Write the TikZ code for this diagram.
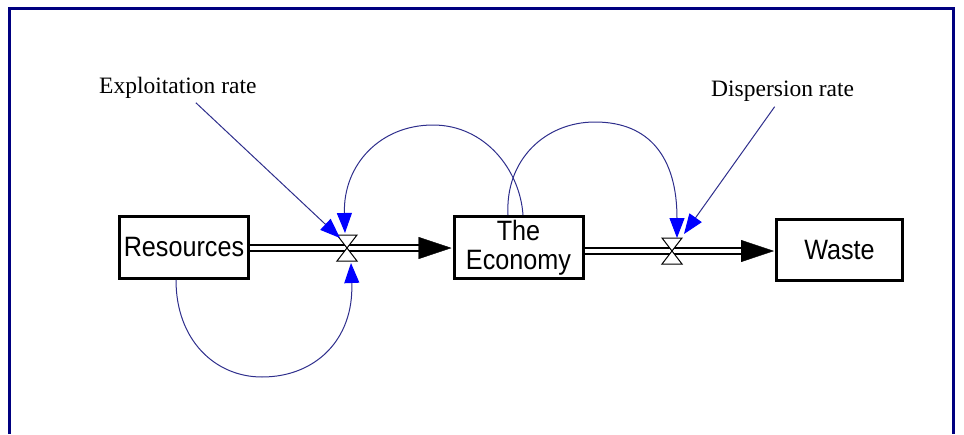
\documentclass[tikz,border=0pt]{standalone}
\usepackage{fontspec}
\setmainfont{Liberation Serif}
\newfontfamily\stockfont[FakeStretch=0.9]{Liberation Sans}
\usetikzlibrary{arrows.meta,calc}
\definecolor{frameblue}{HTML}{000080}
\definecolor{linkink}{HTML}{2E2E8C}
\definecolor{tipblue}{HTML}{0000FF}
\tikzset{>=Latex,stock/.style={draw,line width=3pt,minimum width=129pt,minimum height=62pt,inner sep=0pt,align=center,font=\stockfont\fontsize{28}{29}\selectfont},pipe/.style={double,double distance=4.5pt,line width=1.3pt},flowhead/.style={-{Triangle[length=33pt,width=22pt]},line width=0.4pt},valvebox/.style={draw,fill=white,line width=1pt},link/.style={draw=linkink,line width=1pt,-{Triangle[length=20pt,width=15pt,color=tipblue]}},ratelabel/.style={font=\fontsize{23.5}{27}\selectfont,inner sep=2pt,anchor=base west}}

\begin{document}
\begin{tikzpicture}[x=1pt,y=-1pt]
\useasboundingbox (0,0) rectangle (964,434);
\draw[frameblue,line width=3pt] (9.5,434) -- (9.5,8.5) -- (953,8.5) -- (953,434);
% stocks and rates
\node[stock] (res) at (184,247.5) {Resources};
\node[stock] (eco) at (518.5,247.5) {The\\Economy};
\node[stock,minimum width=126pt,minimum height=61pt] (waste) at (839.5,250) {Waste};
\coordinate (v1) at (347,248);
\coordinate (v2) at (672,251);
\node[ratelabel] (expl) at (97,93) {Exploitation rate};
\node[ratelabel] (disp) at (709,96) {Dispersion rate};
\coordinate (arcL) at (433,125);
\coordinate (arcR) at (595,122);
\coordinate (arcB) at (262,377);
% flows
\draw[pipe] (res.east |- v1) -- ($(eco.west |- v1)+(-31,0)$);
\draw[flowhead] ($(eco.west |- v1)+(-34,0)$) -- ($(eco.west |- v1)+(-1,0)$);
\draw[pipe] (eco.east |- v2) -- ($(waste.west |- v2)+(-31,0)$);
\draw[flowhead] ($(waste.west |- v2)+(-34,0)$) -- ($(waste.west |- v2)+(-1,0)$);
\foreach \v in {v1,v2}{\draw[valvebox] ($(\v)+(-10,-13)$) -- ($(\v)+(10,-13)$) -- ($(\v)+(-10,13)$) -- ($(\v)+(10,13)$) -- cycle;}
% information links
\draw[link] ($(expl.south)+(18,2.5)$) -- ($(v1)+(-7,-10)$);
\draw[link] ($(disp.south)+(-8,3.5)$) -- ($(v2)+(12,-17)$);
\draw[link] ($(eco.north)+(4.5,0)$) .. controls +(-3,-45) and +(52,0) .. (arcL) .. controls +(-53,0) and +(-2,-68) .. ($(v1)+(-2,-15)$);
\draw[link] ($(eco.north)+(-10.5,0)$) .. controls +(-3,-55) and +(-50,0) .. (arcR) .. controls +(55,0) and +(0,-80) .. ($(v2)+(5,-13)$);
\draw[link] ($(res.south)+(-8,0)$) .. controls +(0,60) and +(-47,0) .. (arcB) .. controls +(53,0) and +(3,77) .. ($(v1)+(4,15)$);
\end{tikzpicture}
\end{document}
